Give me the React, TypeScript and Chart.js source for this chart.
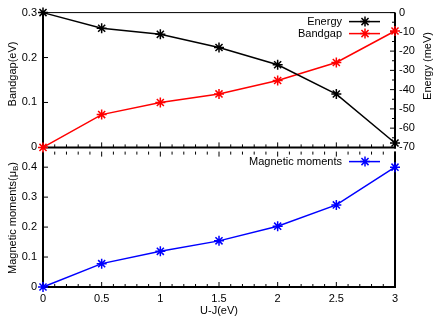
import React, { useEffect, useRef } from 'react';
import { Chart, registerables } from 'chart.js';

Chart.register(...registerables);

// ---- data ----
const uj = [0, 0.5, 1, 1.5, 2, 2.5, 3];
const energy = [0, -8.1, -11.3, -18.1, -27.1, -42.3, -67.7];
const bandgap = [0, 0.073, 0.1, 0.119, 0.149, 0.189, 0.259];
const magnetic = [0, 0.078, 0.119, 0.154, 0.203, 0.274, 0.4];

const xTicks = [0, 0.5, 1, 1.5, 2, 2.5, 3];
const bandgapTicks = [0, 0.1, 0.2, 0.3];
const energyTicks = [0, -10, -20, -30, -40, -50, -60, -70];
const magTicks = [0, 0.1, 0.2, 0.3, 0.4];

const FONT = '"Liberation Sans", Arial, sans-serif';
const W = 436;

const pts = (ys: number[]) => uj.map((x, i) => ({ x, y: ys[i] }));

function minorsBetween(major: number[], step: number): number[] {
  const out: number[] = [];
  const lo = Math.min(...major);
  const hi = Math.max(...major);
  for (let v = lo; v <= hi + 1e-9; v += step) {
    const r = Math.round(v * 1000) / 1000;
    if (!major.some((m) => Math.abs(m - r) < 1e-6)) out.push(r);
  }
  return out;
}

function drawStar(ctx: CanvasRenderingContext2D, x: number, y: number, r: number) {
  ctx.beginPath();
  for (let k = 0; k < 4; k++) {
    const a = (k * Math.PI) / 4;
    ctx.moveTo(x - r * Math.cos(a), y - r * Math.sin(a));
    ctx.lineTo(x + r * Math.cos(a), y + r * Math.sin(a));
  }
  ctx.stroke();
}

type TickSpec = { scale: string; side: 'left' | 'right' | 'top' | 'bottom'; major: number[]; minor: number[] };
type TitleSpec = { text: string; sub?: string; after?: string; x: number; y: number; rot: number };

function decorPlugin(opts: {
  ticks: TickSpec[];
  frame: { top: number; right: number; bottom: number; left: number };
  legendY: number;
  titles: TitleSpec[];
}) {
  return {
    id: 'decor',
    beforeDatasetsDraw(chart: any) {
      const { ctx, chartArea: a } = chart;
      ctx.save();
      ctx.strokeStyle = '#000';
      for (const t of opts.ticks) {
        const s = chart.scales[t.scale];
        const draw = (vals: number[], len: number) => {
          ctx.lineWidth = 1;
          ctx.beginPath();
          for (const v of vals) {
            const p = s.getPixelForValue(v);
            if (t.side === 'bottom') { ctx.moveTo(p, a.bottom); ctx.lineTo(p, a.bottom - len); }
            if (t.side === 'top') { ctx.moveTo(p, a.top); ctx.lineTo(p, a.top + len); }
            if (t.side === 'left') { ctx.moveTo(a.left, p); ctx.lineTo(a.left + len, p); }
            if (t.side === 'right') { ctx.moveTo(a.right, p); ctx.lineTo(a.right - len, p); }
          }
          ctx.stroke();
        };
        draw(t.major, 5);
        draw(t.minor, 3);
      }
      const f = opts.frame;
      const line = (w: number, x1: number, y1: number, x2: number, y2: number) => {
        if (w <= 0) return;
        ctx.lineWidth = w;
        ctx.beginPath();
        ctx.moveTo(x1, y1);
        ctx.lineTo(x2, y2);
        ctx.stroke();
      };
      line(f.top, a.left, a.top, a.right, a.top);
      line(f.bottom, a.left - 1, a.bottom, a.right + 1, a.bottom);
      line(f.left, a.left, a.top, a.left, a.bottom + 1);
      line(f.right, a.right, a.top, a.right, a.bottom + 1);
      ctx.restore();
    },
    afterDatasetsDraw(chart: any) {
      const { ctx, chartArea: a } = chart;
      ctx.save();
      chart.data.datasets.forEach((ds: any, i: number) => {
        const y = a.top + opts.legendY + i * 12;
        ctx.font = `11px ${FONT}`;
        ctx.fillStyle = '#000';
        ctx.textAlign = 'right';
        ctx.textBaseline = 'middle';
        ctx.fillText(ds.label, 342, y);
        ctx.strokeStyle = ds.borderColor;
        ctx.lineWidth = 1.5;
        ctx.beginPath();
        ctx.moveTo(349, y);
        ctx.lineTo(380, y);
        ctx.stroke();
        drawStar(ctx, 365, y, 5);
      });
      for (const t of opts.titles) {
        ctx.save();
        ctx.translate(t.x, t.y);
        ctx.rotate(t.rot);
        ctx.fillStyle = '#000';
        ctx.textBaseline = 'middle';
        ctx.textAlign = 'left';
        ctx.font = `11px ${FONT}`;
        const w1 = ctx.measureText(t.text).width;
        let w2 = 0;
        let w3 = 0;
        if (t.sub) {
          ctx.font = `8px ${FONT}`;
          w2 = ctx.measureText(t.sub).width;
          ctx.font = `11px ${FONT}`;
        }
        if (t.after) w3 = ctx.measureText(t.after).width;
        const total = w1 + w2 + w3;
        let x = -total / 2;
        ctx.fillText(t.text, x, 0);
        x += w1;
        if (t.sub) {
          ctx.font = `8px ${FONT}`;
          ctx.fillText(t.sub, x, 3);
          x += w2;
          ctx.font = `11px ${FONT}`;
        }
        if (t.after) ctx.fillText(t.after, x, 0);
        ctx.restore();
      }
      ctx.restore();
    },
  };
}

const tickFont = { family: FONT, size: 11 };
const fmt = (v: any) => String(Math.round(Number(v) * 1000) / 1000);

function setTicks(vals: number[]) {
  return (s: any) => {
    s.ticks = vals.map((v) => ({ value: v }));
  };
}

export default function App() {
  const topRef = useRef<HTMLCanvasElement>(null);
  const botRef = useRef<HTMLCanvasElement>(null);

  useEffect(() => {
    const xMinor = minorsBetween(xTicks, 0.1);
    const eMinor = minorsBetween(energyTicks, 5);

    const ds = (label: string, ys: number[], color: string, axis: string) => ({
      label,
      data: pts(ys),
      yAxisID: axis,
      borderColor: color,
      backgroundColor: color,
      borderWidth: 1.5,
      pointStyle: 'star',
      pointRadius: 5,
      pointBorderWidth: 1.5,
      pointBorderColor: color,
      tension: 0,
      clip: false as any,
    });

    const noGrid = { display: false, drawTicks: false };

    const top = new Chart(topRef.current!, {
      type: 'line',
      data: {
        datasets: [ds('Energy', energy, '#000000', 'y2'), ds('Bandgap', bandgap, '#ff0000', 'y')] as any,
      },
      options: {
        animation: false,
        responsive: false,
        devicePixelRatio: 1,
        layout: { padding: { top: 10, bottom: 11, left: 0, right: 0 } },
        plugins: { legend: { display: false }, tooltip: { enabled: false } },
        scales: {
          x: { type: 'linear', min: 0, max: 3, display: false },
          y: {
            type: 'linear',
            position: 'left',
            min: 0,
            max: 0.3,
            afterFit: (s: any) => { s.width = 43; },
            afterBuildTicks: setTicks(bandgapTicks),
            grid: noGrid,
            border: { display: false },
            ticks: { padding: 6, font: tickFont, color: '#000', callback: fmt },
          },
          y2: {
            type: 'linear',
            position: 'right',
            min: -70,
            max: 0,
            afterFit: (s: any) => { s.width = 41; },
            afterBuildTicks: setTicks(energyTicks),
            grid: noGrid,
            border: { display: false },
            ticks: { padding: 4, font: tickFont, color: '#000', callback: fmt },
          },
        },
      },
      plugins: [
        decorPlugin({
          ticks: [
            { scale: 'x', side: 'bottom', major: xTicks, minor: xMinor },
            { scale: 'y', side: 'left', major: bandgapTicks, minor: [] },
            { scale: 'y2', side: 'right', major: energyTicks, minor: eMinor },
          ],
          frame: { top: 1, right: 2, bottom: 2, left: 2 },
          legendY: 9,
          titles: [
            { text: 'Bandgap(eV)', x: 13, y: 74, rot: -Math.PI / 2 },
            { text: 'Energy (meV)', x: 428, y: 66, rot: -Math.PI / 2 },
          ],
        }) as any,
      ],
    });

    const bot = new Chart(botRef.current!, {
      type: 'line',
      data: {
        datasets: [ds('Magnetic moments', magnetic, '#0000ff', 'y')] as any,
      },
      options: {
        animation: false,
        responsive: false,
        devicePixelRatio: 1,
        layout: { padding: { top: 10, bottom: 0, left: 0, right: 41 } },
        plugins: { legend: { display: false }, tooltip: { enabled: false } },
        scales: {
          x: {
            type: 'linear',
            min: 0,
            max: 3,
            afterFit: (s: any) => { s.height = 33; },
            afterBuildTicks: setTicks(xTicks),
            grid: noGrid,
            border: { display: false },
            ticks: { padding: 5, font: tickFont, color: '#000', maxRotation: 0, callback: fmt },
          },
          y: {
            type: 'linear',
            position: 'left',
            min: 0,
            max: 0.452,
            afterFit: (s: any) => { s.width = 43; },
            afterBuildTicks: setTicks(magTicks),
            grid: noGrid,
            border: { display: false },
            ticks: { padding: 6, font: tickFont, color: '#000', callback: fmt },
          },
        },
      },
      plugins: [
        decorPlugin({
          ticks: [
            { scale: 'x', side: 'bottom', major: xTicks, minor: xMinor },
            { scale: 'x', side: 'top', major: xTicks, minor: xMinor },
            { scale: 'y', side: 'left', major: magTicks, minor: [] },
          ],
          frame: { top: 0, right: 2, bottom: 2, left: 2 },
          legendY: 10,
          titles: [
            { text: 'Magnetic moments(μ', sub: 'B', after: ')', x: 13, y: 79, rot: -Math.PI / 2 },
            { text: 'U-J(eV)', x: 219, y: 172, rot: 0 },
          ],
        }) as any,
      ],
    });

    return () => {
      top.destroy();
      bot.destroy();
    };
  }, []);

  return (
    <div style={{ position: 'absolute', left: 0, top: 0, width: W, height: 320, background: '#fff' }}>
      <canvas ref={botRef} width={W} height={181} style={{ position: 'absolute', left: 0, top: 139 }} />
      <canvas ref={topRef} width={W} height={160} style={{ position: 'absolute', left: 0, top: 0 }} />
    </div>
  );
}
